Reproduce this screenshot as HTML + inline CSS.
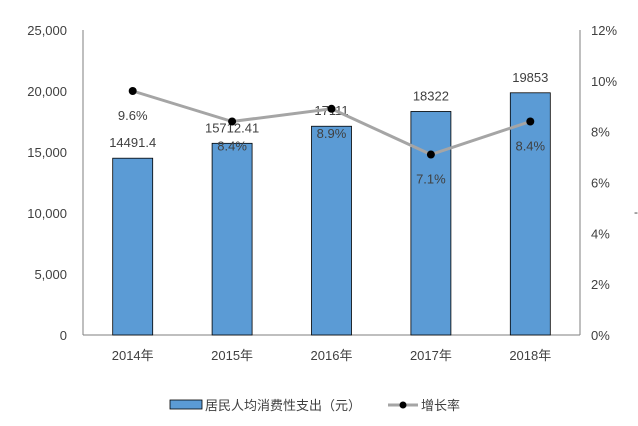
<!DOCTYPE html>
<html><head><meta charset="utf-8"><style>
body{margin:0;background:#fff;}
svg{display:block;font-family:"Liberation Sans","Noto Sans CJK SC",sans-serif;}
</style></head><body>
<svg id="c" width="638" height="426">
<g id="g"></g>
</svg>
<script>
const categories=["2014年","2015年","2016年","2017年","2018年"];
const spending=[14491.4,15712.41,17111,18322,19853];
const spendingLabels=["14491.4","15712.41","17111","18322","19853"];
const growth=[9.6,8.4,8.9,7.1,8.4];
const leftTicks=[0,5000,10000,15000,20000,25000];
const rightTicks=[0,2,4,6,8,10,12];
const NS="http://www.w3.org/2000/svg";
const g=document.getElementById('g');
const x0=83,x1=580,yb=335,yt=30;
const yL=v=>yb-(v/25000)*(yb-yt);
const yR=v=>yb-(v/12)*(yb-yt);
const bw=(x1-x0)/categories.length;
const xc=i=>x0+bw*(i+0.5);
function el(t,a,txt){const e=document.createElementNS(NS,t);for(const k in a)e.setAttribute(k,a[k]);if(txt!=null)e.textContent=txt;g.appendChild(e);return e;}
let e;
e=el('line',{x1:x0,y1:yt,x2:x0,y2:yb,stroke:'#7f7f7f'});


e=el('line',{x1:x1,y1:yt,x2:x1,y2:yb,stroke:'#7f7f7f'});


e=el('line',{x1:x0,y1:yb,x2:x1,y2:yb,stroke:'#7f7f7f'});


leftTicks.forEach(v=>{
 e=el('text',{x:x0-16,y:yL(v)+5,'text-anchor':'end','font-size':13,fill:'#404040'},v.toLocaleString('en-US'));
 
 
});
rightTicks.forEach(v=>{
 e=el('text',{x:x1+11,y:yR(v)+5,'font-size':13,fill:'#404040'},v+'%');
 
 
});
categories.forEach((c,i)=>{
 e=el('rect',{x:xc(i)-20,y:yL(spending[i]),width:40,height:yb-yL(spending[i]),fill:'#5b9bd5',stroke:'#000','stroke-width':0.8});
 
 
 e=el('text',{x:xc(i),y:yL(spending[i])-11,'text-anchor':'middle','font-size':13,fill:'#404040'},spendingLabels[i]);
 
 
 e=el('text',{x:xc(i),y:yb+25,'text-anchor':'middle','font-size':13,fill:'#404040'},c);
 
 
});
e=el('polyline',{points:growth.map((v,i)=>xc(i)+','+yR(v)).join(' '),fill:'none',stroke:'#a5a5a5','stroke-width':3});


growth.forEach((v,i)=>{
 e=el('circle',{cx:xc(i),cy:yR(v),r:4,fill:'#000'});
 
 
 e=el('text',{x:xc(i),y:yR(v)+29,'text-anchor':'middle','font-size':13,fill:'#404040'},v.toFixed(1)+'%');
 
 
});
e=el('rect',{x:170,y:400,width:32,height:9,fill:'#5b9bd5',stroke:'#000','stroke-width':0.8});


e=el('text',{x:205,y:410,'font-size':13,fill:'#404040'},'居民人均消费性支出（元）');


e=el('line',{x1:388,y1:405,x2:418,y2:405,stroke:'#a5a5a5','stroke-width':3});


e=el('circle',{cx:403,cy:405,r:3.5,fill:'#000'});


e=el('text',{x:421,y:410,'font-size':13,fill:'#404040'},'增长率');


e=el('text',{x:634,y:216,'font-size':12,fill:'#404040'},'-');


</script>
</body></html>
